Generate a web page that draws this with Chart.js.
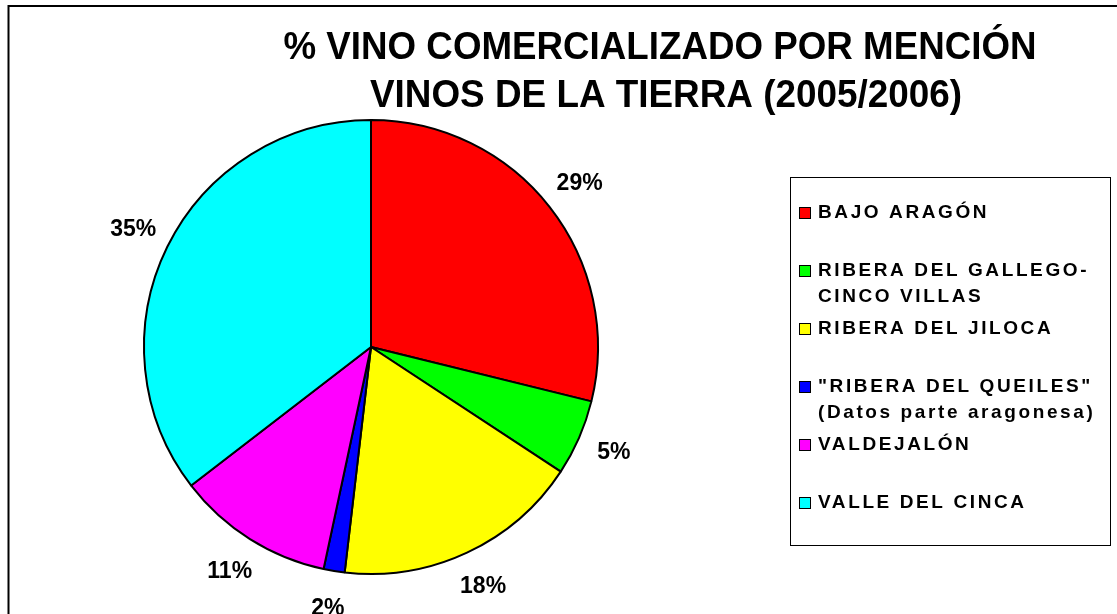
<!DOCTYPE html>
<html>
<head>
	<title>Vino comercializado</title>
	<style>
		body { margin: 0; background: #fff; }
	</style>
</head>
<body>
	<canvas id="pie" width="1117" height="614"></canvas>

	<script src="https://cdn.jsdelivr.net/npm/chart.js@4/dist/chart.umd.min.js"></script>
	<script type="text/javascript">

		// data (percent of wine sold)
		var categories = [
			['BAJO ARAGÓN'],
			['RIBERA DEL GALLEGO-', 'CINCO VILLAS'],
			['RIBERA DEL JILOCA'],
			['"RIBERA DEL QUEILES"', '(Datos parte aragonesa)'],
			['VALDEJALÓN'],
			['VALLE DEL CINCA']
		];
		var values = [28.85, 5.4, 17.6, 1.5, 11.2, 35.45];
		var colors = ['#FF0000', '#00FF00', '#FFFF00', '#0000FF', '#FF00FF', '#00FFFF'];
		var titleLines = ['% VINO COMERCIALIZADO POR MENCIÓN', 'VINOS DE LA TIERRA (2005/2006)'];

		var FONT = '"Liberation Sans", Arial, sans-serif';

		// white page + the frame (only top and left edges show)
		var framePlugin = {
			id: 'frame',
			beforeDraw: function (chart) {
				var ctx = chart.ctx;
				ctx.save();
				ctx.fillStyle = '#fff';
				ctx.fillRect(0, 0, chart.width, chart.height);
				ctx.strokeStyle = '#000';
				ctx.lineWidth = 2;
				ctx.beginPath();
				ctx.moveTo(8.5, chart.height);
				ctx.lineTo(8.5, 6);
				ctx.lineTo(chart.width, 6);
				ctx.stroke();
				ctx.restore();
			}
		};

		// squeezed bold title
		var titlePlugin = {
			id: 'bigTitle',
			afterDraw: function (chart) {
				var ctx = chart.ctx;
				ctx.save();
				ctx.fillStyle = '#000';
				ctx.font = 'bold 39px ' + FONT;
				ctx.textAlign = 'center';
				ctx.textBaseline = 'alphabetic';
				ctx.fillText(titleLines[0], 660, 59, 753);
				ctx.fillText(titleLines[1], 666, 107, 592);
				ctx.restore();
			}
		};

		// percent labels outside each slice
		var pctPlugin = {
			id: 'pctLabels',
			afterDatasetsDraw: function (chart) {
				var ctx = chart.ctx;
				var meta = chart.getDatasetMeta(0);
				var total = values.reduce(function (a, b) { return a + b; }, 0);
				ctx.save();
				ctx.fillStyle = '#000';
				ctx.font = 'bold 23px ' + FONT;
				ctx.textAlign = 'center';
				ctx.textBaseline = 'middle';
				meta.data.forEach(function (arc, i) {
					var mid = (arc.startAngle + arc.endAngle) / 2;
					var d = arc.outerRadius + 38;
					var x = arc.x + Math.cos(mid) * d;
					var y = arc.y + Math.sin(mid) * d;
					ctx.fillText(Math.round(values[i] / total * 100) + '%', x, y);
				});
				ctx.restore();
			}
		};

		// boxed legend on the right
		var legendPlugin = {
			id: 'boxLegend',
			afterDraw: function (chart) {
				var ctx = chart.ctx;
				ctx.save();
				ctx.strokeStyle = '#000';
				ctx.lineWidth = 1;
				ctx.strokeRect(790.5, 177.5, 320, 368);
				ctx.font = 'bold 19px ' + FONT;
				ctx.letterSpacing = '2.6px';
				ctx.textBaseline = 'middle';
				ctx.textAlign = 'left';
				for (var i = 0; i < categories.length; i++) {
					var y = 213 + i * 58;
					ctx.fillStyle = colors[i];
					ctx.fillRect(799, y - 6, 12, 12);
					ctx.strokeStyle = '#000';
					ctx.strokeRect(799.5, y - 5.5, 11, 11);
					ctx.fillStyle = '#000';
					for (var j = 0; j < categories[i].length; j++) {
						ctx.fillText(categories[i][j], 818, y + j * 26);
					}
				}
				ctx.restore();
			}
		};

		var pieChart = new Chart('pie', {
			type: 'pie',
			data: {
				labels: categories.map(function (c) { return c.join(' '); }),
				datasets: [{
					data: values,
					backgroundColor: colors,
					borderColor: '#000',
					borderWidth: 2
				}]
			},
			options: {
				responsive: false,
				animation: false,
				layout: { padding: { left: 143, top: 119, right: 518, bottom: 39 } },
				plugins: {
					legend: { display: false },
					title: { display: false },
					tooltip: { enabled: false }
				}
			},
			plugins: [framePlugin, pctPlugin, titlePlugin, legendPlugin]
		});

	</script>
</body>
</html>
